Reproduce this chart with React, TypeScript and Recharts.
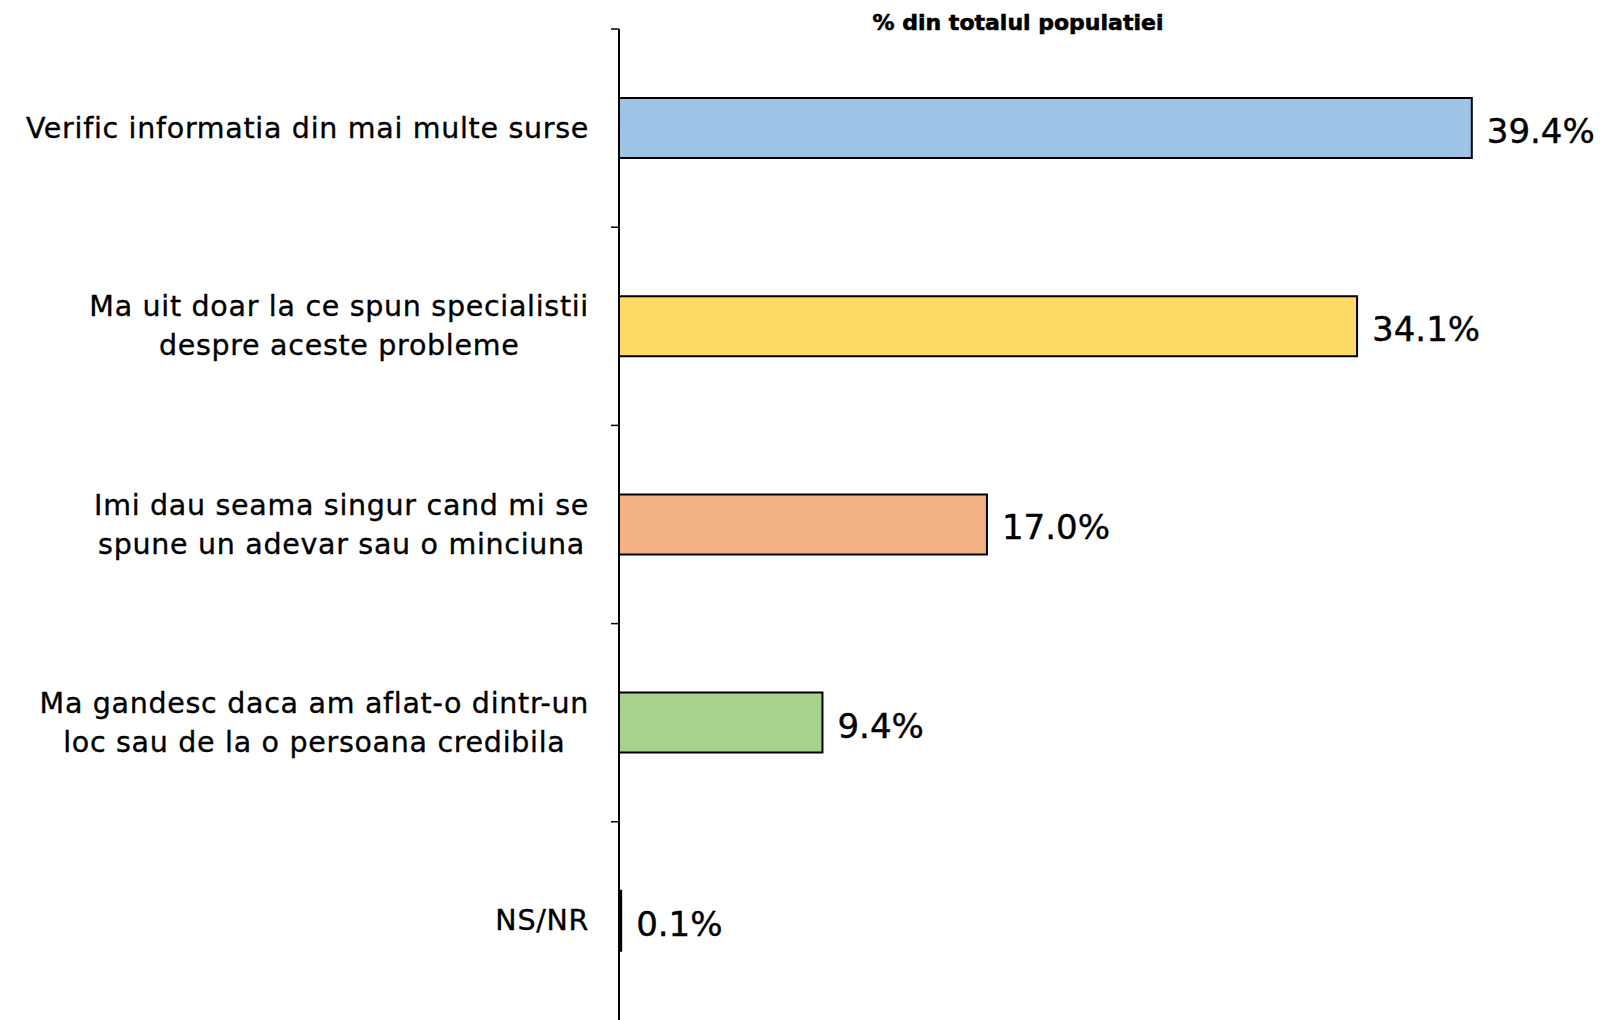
import { BarChart, Bar, XAxis, YAxis, Cell, LabelList } from 'recharts'

// Categories (top to bottom) and their shares, % din totalul populatiei
const categories = [
    'Verific informatia din mai multe surse',
    'Ma uit doar la ce spun specialistii\ndespre aceste probleme',
    'Imi dau seama singur cand mi se\nspune un adevar sau o minciuna',
    'Ma gandesc daca am aflat-o dintr-un\nloc sau de la o persoana credibila',
    'NS/NR',
]
const values = [39.4, 34.1, 17.0, 9.4, 0.1]
const COLORS = ['#9DC3E6', '#FFD966', '#F4B183', '#A9D18E', '#000000']

const W = 1590
const H = 1012
const TOP = 21
const AXIS_W = 611
const FONT = '"DejaVu Sans", sans-serif'
const LABEL_SIZE = 28.5
const LETTER = 0.7
const LINE_H = 39

const data = categories.map((name, i) => ({ name, value: values[i] }))
const BAND = (H - TOP) / categories.length

let ctx: CanvasRenderingContext2D | null = null
const measure = (s: string) => {
    if (!ctx) {
        ctx = document.createElement('canvas').getContext('2d')
        if (ctx) ctx.font = `${LABEL_SIZE}px ${FONT}`
    }
    const w = ctx ? ctx.measureText(s).width : s.length * 15
    return w + s.length * LETTER
}

const CategoryTick = ({ x, y, payload }: any) => {
    const lines = String(payload.value).split('\n')
    const maxW = Math.max(...lines.map(measure))
    const cx = x - 30 - maxW / 2
    const y0 = y - ((lines.length - 1) * LINE_H) / 2
    return (
        <g>
            <line x1={x - 8} x2={x} y1={y - BAND / 2} y2={y - BAND / 2} stroke="#000" strokeWidth={1.5} />
            <text textAnchor="middle" fontFamily={FONT} fontSize={LABEL_SIZE} letterSpacing={LETTER}
                fill="#000" stroke="#000" strokeWidth={0.35}>
                {lines.map((l, i) => (
                    <tspan key={i} x={cx} y={y0 + i * LINE_H} dominantBaseline="central">{l}</tspan>
                ))}
            </text>
        </g>
    )
}

const renderValue = ({ x, y, width, height, value }: any) => (
    <text x={x + width + 15} y={y + height / 2 + 3} dominantBaseline="central"
        fontFamily={FONT} fontSize={34} fill="#000" stroke="#000" strokeWidth={0.4}>
        {`${Number(value).toFixed(1)}%`}
    </text>
)

export default function App() {
    return (
        <div style={{ position: 'relative', width: W, height: H }}>
            <div style={{ position: 'absolute', left: 810, top: 2, width: 400, textAlign: 'center',
                fontFamily: '"DejaVu Sans", sans-serif', fontWeight: 700, fontSize: 22, color: '#000',
                WebkitTextStroke: '0.6px #000' }}>
                % din totalul populatiei
            </div>
            <BarChart width={W} height={H} data={data} layout="vertical"
                margin={{ top: TOP, right: 5, bottom: 0, left: 0 }} barCategoryGap={0}>
                <XAxis type="number" domain={[0, 45]} hide />
                <YAxis type="category" dataKey="name" width={AXIS_W} tickLine={false} tickSize={0}
                    tickMargin={0} interval={0} axisLine={{ stroke: '#000', strokeWidth: 2 }}
                    tick={<CategoryTick />} />
                <Bar dataKey="value" barSize={60} stroke="#000" strokeWidth={2} isAnimationActive={false}>
                    {data.map((_, i) => <Cell key={i} fill={COLORS[i]} />)}
                    <LabelList dataKey="value" content={renderValue} />
                </Bar>
            </BarChart>
        </div>
    )
}
